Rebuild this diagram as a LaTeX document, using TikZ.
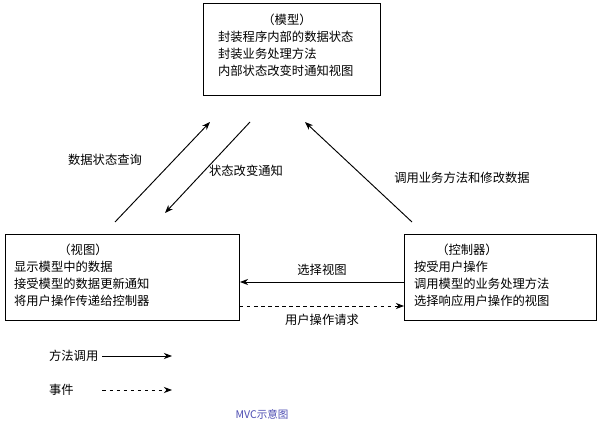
\documentclass[tikz,border=0pt]{standalone}
\usepackage{fontspec}
\setmainfont{Noto Sans CJK SC}
\usetikzlibrary{arrows.meta}
\tikzset{
  part/.style={draw, thick, anchor=north west, inner sep=0pt},
  call/.style={thick, -{Stealth[length=7pt]}},
  event/.style={thick, dashed, -{Stealth[length=7pt]}},
  lbl/.style={font=\fontsize{10.5}{14.5}\selectfont}
}
\begin{document}
\begin{tikzpicture}[x=0.03cm, y=-0.03cm]
\useasboundingbox (0,0) rectangle (607,426);
% boxes
\node[part, minimum width=177*0.03cm, minimum height=92*0.03cm] (M) at (203,3) {};
\node[part, minimum width=234*0.03cm, minimum height=86*0.03cm] (V) at (5,234) {};
\node[part, minimum width=192*0.03cm, minimum height=86*0.03cm] (C) at (404,234) {};
\node[lbl, align=left, anchor=north west] (Mt) at (214,10) {\hspace*{3.6em}（模型）\\封装程序内部的数据状态\\封装业务处理方法\\内部状态改变时通知视图};
\node[lbl, align=left, anchor=north west] (Vt) at (10,240) {\hspace*{3.6em}（视图）\\显示模型中的数据\\接受模型的数据更新通知\\将用户操作传递给控制器};
\node[lbl, align=left, anchor=north west] (Ct) at (410,240) {\hspace*{1.8em}（控制器）\\按受用户操作\\调用模型的业务处理方法\\选择响应用户操作的视图};
% connectors
\coordinate (v1) at (115,222); \coordinate (m1) at (210,122);
\coordinate (m2) at (250,122); \coordinate (v2) at (165,213);
\coordinate (c1) at (412,222); \coordinate (m3) at (305,122);
\draw[call] (v1) -- (m1);
\draw[call] (m2) -- (v2);
\draw[call] (c1) -- (m3);
\draw[call] (C.west |- 0,282) -- (V.east |- 0,282);
\draw[event] (V.east |- 0,306) -- (C.west |- 0,306);
\node[lbl] (q) at (105,160) {数据状态查询};
\node[lbl] (n) at (246,171) {状态改变通知};
\node[lbl] (u) at (462,178) {调用业务方法和修改数据};
\node[lbl] (s) at (322,270) {选择视图};
\node[lbl] (r) at (322,320) {用户操作请求};
% legend
\node[lbl, anchor=west] (L1) at (45,356) {方法调用};
\node[lbl, anchor=west] (L2) at (45,390) {事件};
\coordinate (a1) at (172,356); \coordinate (a2) at (172,390);
\draw[call] (L1.east) -- (a1);
\draw[event] (L2.east -| L1.east) -- (a2);
\node[font=\small, text=blue!40!gray] (cap) at (262,414) {MVC示意图};
\end{tikzpicture}
\end{document}
